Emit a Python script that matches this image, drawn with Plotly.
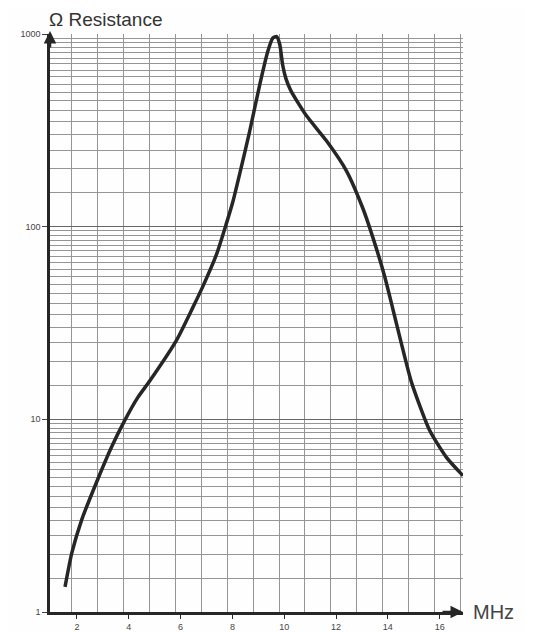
import plotly.graph_objects as go

# Curve (frequency in MHz, resistance in ohms)
freq_mhz = [1.54, 1.80, 2.18, 2.76, 3.34, 3.85, 4.35, 4.82, 5.84, 6.47, 6.86, 7.39, 7.77,
            8.02, 8.29, 8.67, 9.06, 9.37, 9.56, 9.71, 9.83, 9.94, 10.06, 10.25, 10.86, 11.63,
            12.40, 13.03, 13.42, 13.88, 14.19, 14.52, 14.91, 15.61, 16.26, 16.90]
resistance = [1.35, 2.02, 3.0, 4.73, 7.2, 9.9, 13.0, 15.9, 25.7, 38.0, 49.0, 72.0, 104,
              135, 190, 314, 550, 817, 953, 970, 880, 690, 590, 510, 376, 279,
              195, 125, 88, 55, 37.5, 24.8, 15.6, 8.77, 6.35, 5.1]

x_tick_vals = [2, 4, 6, 8, 10, 12, 14, 16]
y_tick_vals = [1, 10, 100, 1000]
y_tick_text = ["1", "10", "100", "1000"]

# log-paper grid: 1.5, 2, 2.5 ... 9.5 in every decade
y_grid_vals = [m * d for d in (1, 10, 100) for m in
               (1.5, 2, 2.5, 3, 3.5, 4, 4.5, 5, 5.5, 6, 6.5, 7, 7.5, 8, 8.5, 9, 9.5)]

grid_col = "#959595"
ink = "#262626"

fig = go.Figure()
fig.add_trace(go.Scatter(
    x=freq_mhz, y=resistance, mode="lines",
    line=dict(color=ink, width=3.5, shape="spline", smoothing=0.6),
    hoverinfo="skip", showlegend=False,
))

fig.update_layout(
    width=525, height=624,
    margin=dict(l=42, r=70, t=26, b=20),
    paper_bgcolor="#fefefe", plot_bgcolor="#fefefe",
    font=dict(family="Liberation Sans Narrow, Liberation Sans, Arial", color="#444"),
    xaxis=dict(
        range=[0.96, 16.9], tickmode="array", tickvals=x_tick_vals,
        showgrid=False, zeroline=False, automargin=False,
        ticks="outside", ticklen=4, tickcolor=ink, tickwidth=1,
        tickfont=dict(size=9, color="#444"),
        showline=True, linecolor=ink, linewidth=2.5,
        minor=dict(tick0=0.8, dtick=1, showgrid=True, gridcolor=grid_col,
                   gridwidth=1, ticks=""),
    ),
    yaxis=dict(
        type="log", range=[0, 3], tickmode="array",
        tickvals=y_tick_vals, ticktext=y_tick_text,
        showgrid=True, gridcolor="#666", gridwidth=1.2, zeroline=False,
        automargin=False,
        ticks="outside", ticklen=5, tickcolor="#444", tickwidth=1,
        tickfont=dict(size=9, color="#444"),
        showline=True, linecolor=ink, linewidth=2.5,
        minor=dict(tickmode="array", tickvals=y_grid_vals, showgrid=True,
                   gridcolor=grid_col, gridwidth=1, ticks=""),
    ),
)

# arrowheads on the axes
fig.add_annotation(xref="paper", yref="paper", x=0, y=1.005, ax=0, ay=18,
                   showarrow=True, arrowhead=2, arrowsize=1, arrowwidth=2.5,
                   arrowcolor=ink, text="")
fig.add_annotation(xref="paper", yref="paper", x=1.0, y=0, ax=-22, ay=0,
                   showarrow=True, arrowhead=2, arrowsize=1, arrowwidth=2.5,
                   arrowcolor=ink, text="")

# axis titles
fig.add_annotation(xref="paper", yref="paper", x=-0.005, y=1.025,
                   xanchor="left", yanchor="middle", showarrow=False,
                   text="Ω Resistance", borderpad=0,
                   font=dict(size=19, color="#333",
                             family="Liberation Sans Narrow, Liberation Sans, Arial"))
fig.add_annotation(xref="paper", yref="paper", x=1.0, y=0, xshift=8,
                   xanchor="left", yanchor="middle", showarrow=False,
                   text="MHz",
                   font=dict(size=20, color="#444",
                             family="Liberation Sans Narrow, Liberation Sans, Arial"))

fig.write_html("out.html")
